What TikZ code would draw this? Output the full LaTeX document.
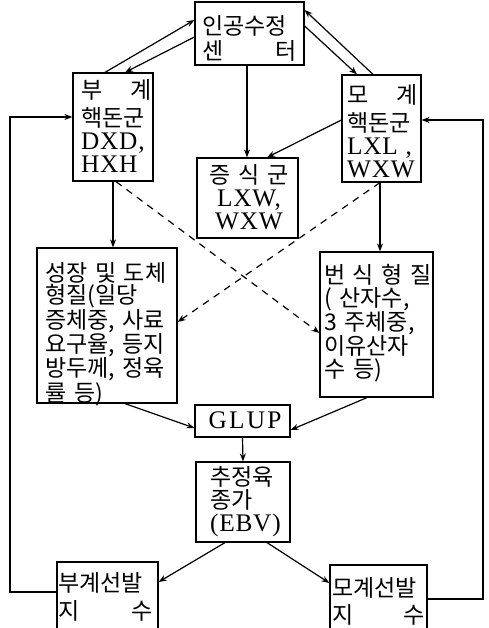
\documentclass[tikz,border=0pt]{standalone}
\usepackage{fontspec}
\setmainfont{Noto Sans CJK KR}
\newfontfamily\latnfont{Liberation Serif}[Scale=1.1, LetterSpace=3]
\newfontfamily\widelatn{Liberation Serif}[Scale=1.1, LetterSpace=9]
\newcommand\latn[1]{{\latnfont #1}}
\newcommand\spread{\hskip 0pt plus 1fill\relax}
\usetikzlibrary{arrows.meta}

\begin{document}
\begin{tikzpicture}[x=1pt,y=-1pt,
  box/.style={draw, line width=1.2pt, inner sep=0pt, rectangle},
  txt/.style={inner sep=0pt, anchor=base west, align=left,
              font=\fontsize{23}{23}\selectfont},
  link/.style={line width=1.2pt, -{Stealth[length=8pt,width=6pt]}},
  cross/.style={link, dash pattern=on 7pt off 6pt}]

\useasboundingbox[fill=white] (0,0) rectangle (488,628);

% boxes
\node[box, minimum width=109pt, minimum height=63pt]  (top)  at (249.5,33.5) {};
\node[box, minimum width=80pt,  minimum height=108pt] (lb)   at (113,127) {};
\node[box, minimum width=79pt,  minimum height=107pt] (rb)   at (381.5,128.5) {};
\node[box, minimum width=101pt, minimum height=80pt]  (mid)  at (247.5,198) {};
\node[box, minimum width=140pt, minimum height=155pt] (grow) at (107,325.5) {};
\node[box, minimum width=113pt, minimum height=145pt] (repr) at (376.5,324.5) {};
\node[box, minimum width=95pt,  minimum height=32pt]  (glup) at (242.5,421) {};
\node[box, minimum width=94pt,  minimum height=80pt]  (ebv)  at (243,502) {};
\node[box, minimum width=101pt, minimum height=69pt]  (ls)   at (107.5,596.5) {};
\node[box, minimum width=97pt,  minimum height=66pt]  (rs)   at (378.5,598) {};

% texts
\node[txt, text width=94pt] (t-top) at (202,35)
  {인공수정\\[2pt]센\spread 터};
\node[txt, text width=70pt] (t-lb) at (81,99)
  {부\spread 계\\[5pt]핵돈군\\\latn{DXD,}\\\latn{HXH}};
\node[txt, text width=70pt] (t-rb) at (347,104)
  {모\spread 계\\[5pt]핵돈군\\\latn{LXL ,}\\\latn{WXW}};
\node[txt, anchor=base, align=center, text width=101pt] (t-mid) at (249,184)
  {증 식 군\\\latn{LXW,}\\\latn{WXW}};
\node[txt, text width=130pt, font=\fontsize{23}{22.6}\selectfont] (t-grow) at (45,281)
  {성장 및 도체\\형질(일당\\증체중, 사료\\요구율, 등지\\방두께, 정육\\률 등)};
\node[txt, text width=107pt] (t-repr) at (324,283)
  {번\spread 식\spread 형\spread 질\\( 산자수,\\3 주체중,\\이유산자\\수 등)};
\node[txt, anchor=base, align=center, text width=95pt] (t-glup) at (245,428)
  {{\widelatn GLUP}};
\node[txt, text width=78pt] (t-ebv) at (210,485)
  {추정육\\종가\\\latn{(EBV)}};
\node[txt, text width=94pt, font=\fontsize{23}{28}\selectfont] (t-ls) at (58,591)
  {부계선발\\지\spread 수};
\node[txt, text width=92pt, font=\fontsize{23}{27}\selectfont] (t-rs) at (332,596)
  {모계선발\\지\spread 수};

% links between the breeding stages
\draw[link] ([xshift=-8pt]lb.north) -- ([yshift=13.5pt]top.west);
\draw[link] ([yshift=-3.5pt]top.west) -- ([xshift=12pt]lb.north);
\draw[link] ([yshift=7.5pt]top.east) -- ([xshift=-24.5pt]rb.north);
\draw[link] ([xshift=-8.5pt]rb.north) -- ([yshift=23.5pt]top.east);
\draw[link] ([xshift=-2.5pt]top.south) -- ([xshift=-2.5pt]top.south |- mid.north);
\draw[link] ([yshift=8.5pt]rb.west) -- ([xshift=19.5pt]mid.north);
\draw[link] (lb.south) -- (lb.south |- grow.north);
\draw[link] ([xshift=-1.5pt]rb.south) -- ([xshift=-1.5pt]rb.south |- repr.north);
\draw[cross] ([xshift=3pt]lb.south) -- ([yshift=-8.5pt]repr.west);
\draw[cross] ([xshift=-1.5pt]rb.south) -- ([yshift=3.5pt]grow.east);
\draw[link] ([xshift=18pt]grow.south) -- ([yshift=-7pt]glup.west);
\draw[link] ([xshift=-9.5pt]repr.south) -- ([yshift=-9pt]glup.east);
\draw[link] (glup.south) -- (ebv.north);
\draw[link] ([xshift=-18pt]ebv.south) -- ([yshift=14.5pt]ls.east);
\draw[link] ([xshift=24pt]ebv.south) -- ([yshift=15pt]rs.west);

% feedback loops back to the nucleus herds
\coordinate (fbl) at (10,350);
\coordinate (fbr) at (483,350);
\draw[link] ([yshift=4.5pt]ls.west) -| (fbl) |- ([yshift=10pt]lb.west);
\draw[link] ([yshift=-1pt]rs.east) -| (fbr) |- ([yshift=8.5pt]rb.east);
\end{tikzpicture}
\end{document}
